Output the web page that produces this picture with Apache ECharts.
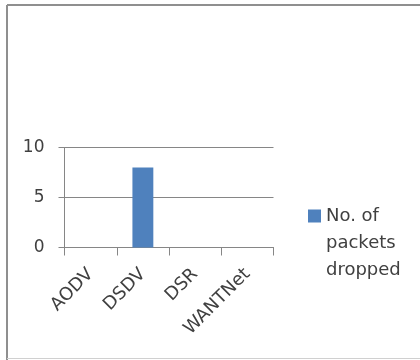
<!DOCTYPE html>
<html>
<head>
<meta charset="utf-8">
<script src="https://cdn.jsdelivr.net/npm/echarts@6/dist/echarts.min.js"></script>
<style>html,body{margin:0;padding:0;background:#fff;}#c{width:420px;height:360px;}</style>
</head>
<body>
<div id="c"></div>
<script>
const categories = ['AODV', 'DSDV', 'DSR', 'WANTNet'];
const seriesName = 'No. of packets dropped';
const packetsDropped = [0, 8, 0, 0];
const yTicks = { min: 0, max: 10, interval: 5 };

const chart = echarts.init(document.getElementById('c'), null, { renderer: 'canvas' });
const textColor = '#404040';
const font = 'DejaVu Sans';
chart.setOption({
  animation: false,
  backgroundColor: '#fff',
  graphic: [
    { type: 'line', shape: { x1: 7, y1: 5, x2: 420, y2: 5 }, style: { stroke: '#8f8f8f', lineWidth: 2 } },
    { type: 'line', shape: { x1: 7, y1: 5, x2: 7, y2: 360 }, style: { stroke: '#8f8f8f', lineWidth: 2 } },
    { type: 'line', shape: { x1: 7, y1: 358.5, x2: 420, y2: 358.5 }, style: { stroke: '#d0d0d0', lineWidth: 1 } }
  ],
  grid: { left: 64.5, right: 146.5, top: 147.5, bottom: 112.5, containLabel: false },
  legend: {
    show: true,
    left: 308,
    top: 148.5,
    padding: 0,
    orient: 'vertical',
    icon: 'rect',
    itemWidth: 13,
    itemHeight: 13,
    itemGap: 4,
    formatter: function () { return ' \n \nNo. of\npackets\ndropped'; },
    textStyle: { fontFamily: font, fontSize: 18, color: textColor, lineHeight: 27 },
    data: [seriesName]
  },
  xAxis: {
    type: 'category',
    data: categories,
    axisLine: { lineStyle: { color: '#868686', width: 1 } },
    axisTick: { show: true, length: 8, lineStyle: { color: '#868686' } },
    axisLabel: { rotate: 45, interval: 0, margin: 24, fontFamily: font, fontSize: 18, color: textColor }
  },
  yAxis: {
    type: 'value',
    min: yTicks.min,
    max: yTicks.max,
    interval: yTicks.interval,
    axisLine: { show: true, lineStyle: { color: '#868686', width: 1 } },
    axisTick: { show: true, length: 6, lineStyle: { color: '#868686' } },
    splitLine: { show: true, lineStyle: { color: '#868686', width: 1 } },
    axisLabel: { margin: 20, fontFamily: font, fontSize: 17, color: textColor }
  },
  series: [{
    name: seriesName,
    type: 'bar',
    data: packetsDropped,
    barWidth: '40%',
    itemStyle: { color: '#4f81bd' }
  }]
});
</script>
</body>
</html>
